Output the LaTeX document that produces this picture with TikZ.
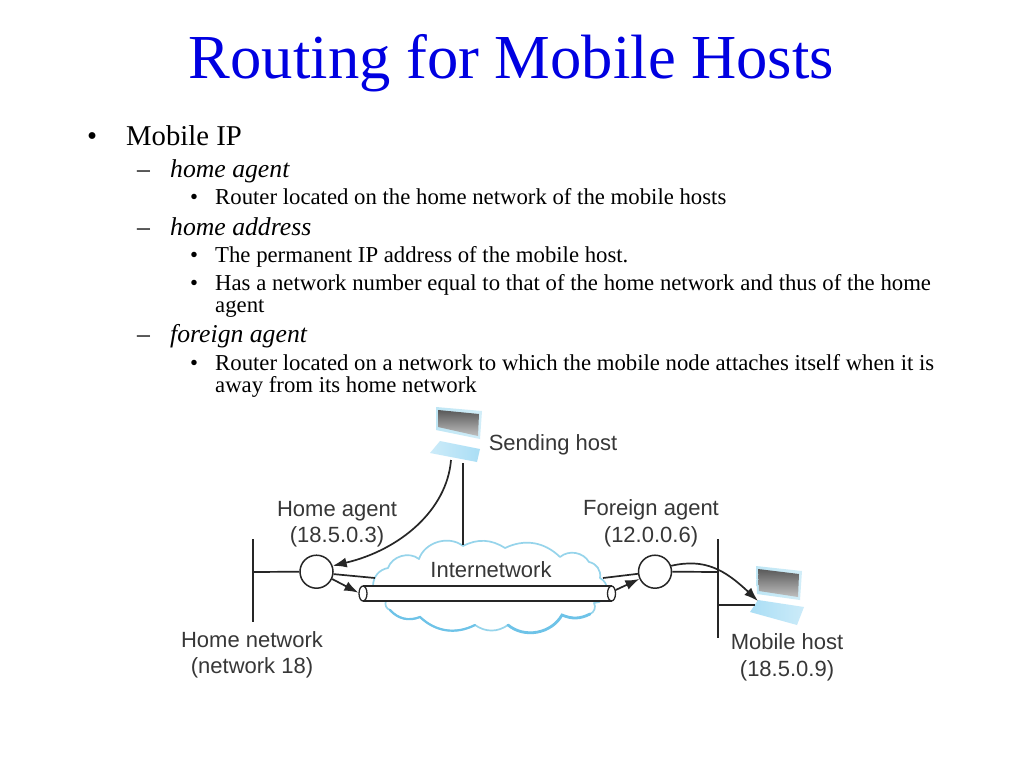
\documentclass[tikz,border=0pt]{standalone}
\usepackage{fontspec}
\setmainfont{Liberation Serif}
\newfontfamily\labelfont{Liberation Sans}
\usetikzlibrary{arrows.meta,shapes.geometric}
\definecolor{titleblue}{RGB}{0,0,225}
\definecolor{cloudblue}{RGB}{150,212,235}
\definecolor{cloudedge}{RGB}{110,195,232}
\definecolor{inkgray}{RGB}{55,55,55}
\definecolor{framecol}{RGB}{190,230,245}
\definecolor{keycol}{RGB}{170,222,245}
\tikzset{
  titletext/.style={anchor=base,font=\fontsize{62.6}{62}\selectfont,text=titleblue,inner sep=0pt},
  lvlone/.style={anchor=base west,font=\fontsize{28.7}{28}\selectfont,inner sep=0pt},
  lvltwo/.style={anchor=base west,font=\fontsize{25.7}{25}\selectfont\itshape,inner sep=0pt},
  lvlthree/.style={anchor=base west,font=\fontsize{22.75}{22}\selectfont,inner sep=0pt},
  difflabel/.style={anchor=base,font=\labelfont\fontsize{22}{22}\selectfont,text=inkgray,inner sep=0pt},
  agentnode/.style={circle,draw=black!85,fill=white,line width=1.5pt,minimum size=33pt,inner sep=0pt},
  wire/.style={draw=black!85,line width=1.7pt},
  flow/.style={draw=black!85,line width=1.7pt,-{Latex[length=14pt,width=10pt]}},
  tubeend/.style={draw=black!85,fill=white,line width=1.3pt}
}
\begin{document}
\begin{tikzpicture}[x=1pt,y=-1pt]
\useasboundingbox[fill=white] (0,0) rectangle (1024,768);
% title
\node[titletext] (title) at (511.5,78) {Routing for Mobile Hosts};
% bullets
\node[lvlone] (b1) at (87,145) {•};
\node[lvlone] (t1) at (126,145) {Mobile IP};
\node[lvltwo] (b2) at (137,177) {–};
\node[lvltwo] (t2) at (170,177) {home agent};
\node[lvlthree] (b3) at (190,204) {•};
\node[lvlthree] (t3) at (215,204) {Router located on the home network of the mobile hosts};
\node[lvltwo] (b4) at (137,235) {–};
\node[lvltwo] (t4) at (170,235) {home address};
\node[lvlthree] (b5) at (190,262) {•};
\node[lvlthree] (t5) at (215,262) {The permanent IP address of the mobile host.};
\node[lvlthree] (b6) at (190,290) {•};
\node[lvlthree] (t6) at (215,290) {Has a network number equal to that of the home network and thus of the home};
\node[lvlthree] (t7) at (215,312) {agent};
\node[lvltwo] (b8) at (137,342) {–};
\node[lvltwo] (t8) at (170,342) {foreign agent};
\node[lvlthree] (b9) at (190,370) {•};
\node[lvlthree] (t9) at (215,370) {Router located on a network to which the mobile node attaches itself when it is};
\node[lvlthree] (t10) at (215,392) {away from its home network};
% cloud
\path[draw=cloudblue,fill=white,line width=1.7pt,line join=round]
  (373,586) to[bend left=40] (388,568)
  to[bend left=55] (419,559)
  to[bend left=55] (463,546)
  to[bend left=30] (505,548)
  to[bend left=35] (560,557)
  to[bend left=50] (589,562)
  to[bend left=45] (600,578)
  to[bend left=30] (607,590)
  to[bend left=45] (594,603)
  to[bend left=50] (590,614)
  to[bend left=25] (562,615)
  to[bend left=50] (508,625)
  to[bend left=35] (475,625)
  to[bend left=35] (420,617)
  to[bend left=35] (390,610)
  to[bend left=50] (386,601)
  to[bend left=30] (373,586) -- cycle;
\draw[cloudedge,line width=2.8pt,line cap=round] (590,614) to[bend left=25] (562,615) to[bend left=50] (508,625);
\draw[cloudedge,line width=2.2pt,line cap=round] (475,625) to[bend left=35] (420,617) to[bend left=35] (390,610);
% tube
\coordinate (tubeL) at (363,593.5);
\coordinate (tubeR) at (611.5,593.5);
\path[fill=white] (363,586) rectangle (611.5,601);
\draw[wire] (363,586) -- (611.5,586);
\draw[wire] (363,601) -- (611.5,601);
\node[tubeend,ellipse,minimum width=8pt,minimum height=15pt,inner sep=0pt] (lend) at (tubeL) {};
\node[tubeend,ellipse,minimum width=8pt,minimum height=15pt,inner sep=0pt] (rend) at (tubeR) {};
% agents and networks
\node[agentnode] (ha) at (316.5,571.7) {};
\node[agentnode] (fa) at (655,571.7) {};
\coordinate (hnT) at (253,539);
\coordinate (hnB) at (253,622);
\coordinate (hnJ) at (253,572);
\coordinate (fnT) at (718,539);
\coordinate (fnB) at (718,638);
\coordinate (fnJ) at (718,572);
\coordinate (fnK) at (718,605);
\coordinate (cloudL) at (375,578);
\coordinate (cloudR) at (603,578);
\coordinate (cloudT) at (463,545);
\draw[wire] (hnT) -- (hnB);
\draw[wire] (fnT) -- (fnB);
\draw[wire] (hnJ) -- (ha.west);
\draw[wire] (fa.east) -- (fnJ);
\draw[wire] (ha.-8) -- (cloudL);
\draw[wire] (cloudR) -- (fa.187);
% sending laptop
\shade[left color=framecol,right color=framecol!70] (436,407) -- (482,411) -- (480,439) -- (436,430) -- cycle;
\shade[top color=black!65,bottom color=black!25] (438,410) -- (479,414) -- (478,436) -- (438,427) -- cycle;
\shade[left color=keycol!60,right color=keycol] (440,441) -- (480,449) -- (477,462) -- (430,453) -- cycle;
\coordinate (shA) at (451,460);
\coordinate (shB) at (463,463);
% mobile laptop
\shade[left color=framecol,right color=framecol!70] (756,566) -- (802,571) -- (800,600) -- (757,594) -- cycle;
\shade[top color=black!65,bottom color=black!25] (758,569) -- (799,574) -- (798,597) -- (759,591) -- cycle;
\shade[left color=keycol,right color=keycol!60] (758,600) -- (804,607) -- (797,625) -- (750,612) -- cycle;
\coordinate (mhA) at (758,601);
\coordinate (mhB) at (755,605);
\draw[wire] (shB) -- (cloudT);
\draw[wire] (fnK) -- (mhB);
% arrows
\draw[flow] (shA) .. controls (447,510) and (400,550) .. (ha.20);
\draw[flow] (ha.-25) -- (lend.170);
\draw[flow] (rend.40) -- (fa.205);
\draw[flow] (fa.20) .. controls (705,558) and (725,570) .. (mhA);
% labels
\node[difflabel] (l1) at (553,450) {Sending host};
\node[difflabel] (l2) at (337,516) {Home agent};
\node[difflabel] (l3) at (337,542) {(18.5.0.3)};
\node[difflabel] (l4) at (651,515) {Foreign agent};
\node[difflabel] (l5) at (651,542) {(12.0.0.6)};
\node[difflabel] (l6) at (491,577) {Internetwork};
\node[difflabel] (l7) at (252,647) {Home network};
\node[difflabel] (l8) at (252,673) {(network 18)};
\node[difflabel] (l9) at (787,649) {Mobile host};
\node[difflabel] (l10) at (787,676) {(18.5.0.9)};
\end{tikzpicture}
\end{document}
